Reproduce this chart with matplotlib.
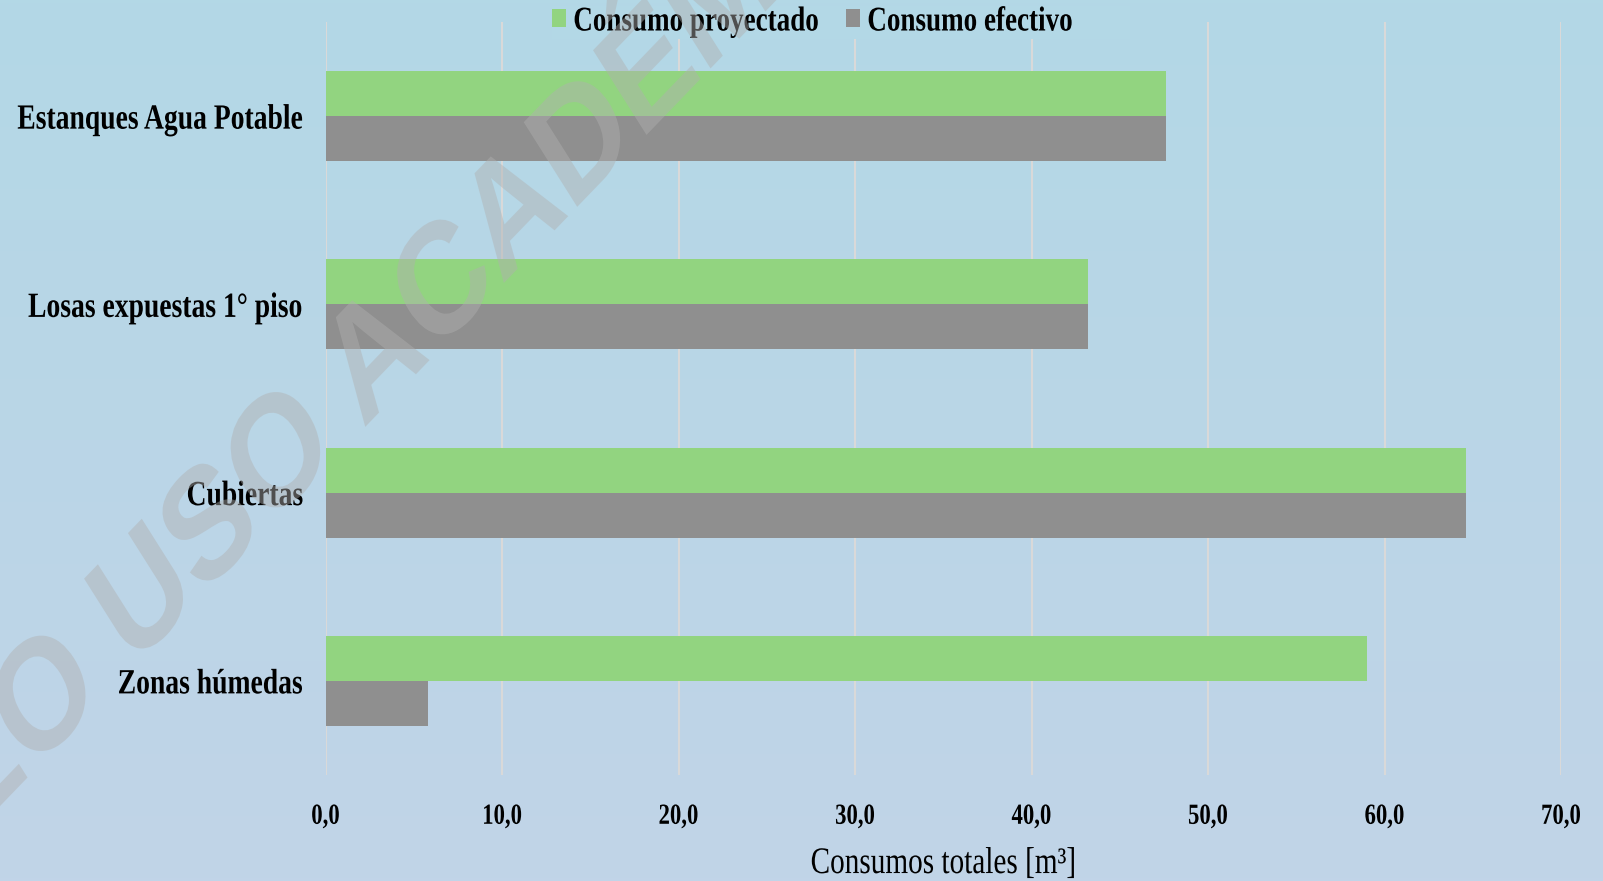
import numpy as np
import matplotlib
matplotlib.use('Agg')
import matplotlib.pyplot as plt
from matplotlib.colors import LinearSegmentedColormap
from matplotlib.patheffects import AbstractPathEffect
from matplotlib.transforms import Affine2D

# --- DATA ---
categories = ['Zonas húmedas', 'Cubiertas', 'Losas expuestas 1° piso', 'Estanques Agua Potable']
consumo_proyectado = [59.0, 64.6, 43.2, 47.6]
consumo_efectivo = [5.8, 64.6, 43.2, 47.6]
x_ticks = [0, 10, 20, 30, 40, 50, 60, 70]
x_tick_labels = ['0,0', '10,0', '20,0', '30,0', '40,0', '50,0', '60,0', '70,0']

FONT = 'Liberation Serif'
SQUEEZE = 0.78  # the source picture uses a horizontally squashed serif


class Squeeze(AbstractPathEffect):
    """Narrow a text horizontally around its left/center/right edge."""

    def __init__(self, anchor='center', sx=SQUEEZE):
        super().__init__()
        self.anchor = anchor
        self.sx = sx

    def draw_path(self, renderer, gc, tpath, affine, rgbFace=None):
        box = tpath.get_extents(affine)
        if self.anchor == 'left':
            x0 = box.x0
        elif self.anchor == 'right':
            x0 = box.x1
        else:
            x0 = 0.5 * (box.x0 + box.x1)
        squash = Affine2D().translate(-x0, 0).scale(self.sx, 1).translate(x0, 0)
        renderer.draw_path(gc, tpath, affine + squash, rgbFace)


fig = plt.figure(figsize=(16.03, 8.81), dpi=100)

# background gradient
bg = fig.add_axes([0, 0, 1, 1], zorder=-10)
cmap = LinearSegmentedColormap.from_list('bg', ['#B3D8E6', '#C1D4E8'])
bg.imshow(np.linspace(0, 1, 256)[:, None], aspect='auto', cmap=cmap,
          extent=[0, 1, 0, 1], origin='upper')
bg.axis('off')

ax = fig.add_axes([0.2031, 0.1203, 0.7707, 0.8547])
ax.set_facecolor('none')

y = np.arange(len(categories))
h = 0.239
ax.barh(y + h / 2, consumo_proyectado, height=h, color='#92D480', label='Consumo proyectado')
ax.barh(y - h / 2, consumo_efectivo, height=h, color='#8F8F8F', label='Consumo efectivo')

ax.set_xlim(0, 70)
ax.set_ylim(-0.5, 3.5)
ax.set_xticks(x_ticks, x_tick_labels)
ax.set_yticks(y, categories)
ax.set_axisbelow(True)
ax.grid(axis='x', color='#D9D9D9', linewidth=1.5)
ax.grid(axis='y', visible=False)
ax.tick_params(length=0)
ax.tick_params(axis='x', pad=20)
ax.tick_params(axis='y', pad=16)
for spine in ax.spines.values():
    spine.set_visible(False)

for lbl in ax.get_xticklabels():
    lbl.set_fontfamily(FONT)
    lbl.set_fontweight('bold')
    lbl.set_fontsize(21)
    lbl.set_path_effects([Squeeze('center')])
for lbl in ax.get_yticklabels():
    lbl.set_fontfamily(FONT)
    lbl.set_fontweight('bold')
    lbl.set_fontsize(25.5)
    lbl.set_path_effects([Squeeze('right')])

ax.set_xlabel('Consumos totales [m³]', fontfamily=FONT, fontsize=27,
              path_effects=[Squeeze('center')])
ax.xaxis.set_label_coords(0.5, -0.095)

leg = ax.legend(loc='center left', bbox_to_anchor=(0.3444, 0.975), bbox_transform=fig.transFigure,
                ncol=2, prop={'family': FONT, 'weight': 'bold', 'size': 25},
                handlelength=0.4, handleheight=0.4, handletextpad=0.2, columnspacing=-1.2,
                borderpad=0, borderaxespad=0, frameon=True, fancybox=False,
                facecolor='#B3D8E6', edgecolor='none', framealpha=1)
for t in leg.get_texts():
    t.set_path_effects([Squeeze('left')])

# watermark
fig.text(0.235, 0.585, 'SOLO USO ACADÉMICO', rotation=39, rotation_mode='anchor',
         ha='center', va='center', fontsize=114, fontfamily='Liberation Sans',
         fontweight='bold', color='#B0B0B0', alpha=0.45, zorder=10,
         path_effects=[Squeeze('center')])

fig.savefig('out.png', dpi=100)
